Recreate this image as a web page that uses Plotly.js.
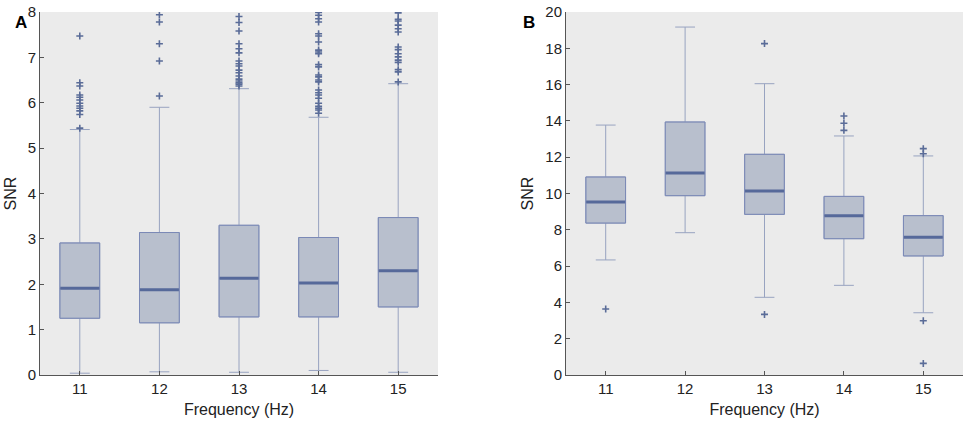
<!DOCTYPE html>
<html>
<head>
<meta charset="utf-8">
<script src="https://cdn.plot.ly/plotly-3.0.1.min.js"></script>
<style>
  html, body { margin: 0; padding: 0; background: #fff; }
  #chart { width: 970px; height: 425px; }
</style>
</head>
<body>
<div id="chart"></div>
<script>
// frequency categories (Hz)
const freqs = [11, 12, 13, 14, 15];

// panel A: box stats per frequency
const aQ1 = [1.25, 1.15, 1.28, 1.28, 1.50];
const aMedian = [1.91, 1.88, 2.13, 2.03, 2.30];
const aQ3 = [2.91, 3.14, 3.30, 3.03, 3.47];
const aLow = [0.04, 0.07, 0.06, 0.10, 0.06];
const aHigh = [5.41, 5.90, 6.31, 5.68, 6.42];

// panel A outliers (visible ones, under 8)
const aOut11 = [7.47, 6.44, 6.37, 6.17, 6.12, 6.06, 5.99, 5.93, 5.88, 5.82, 5.74, 5.44];
const aOut12 = [7.94, 7.78, 7.30, 6.92, 6.15];
const aOut13 = [7.90, 7.77, 7.58, 7.30, 7.19, 7.10, 6.92, 6.86, 6.81, 6.72, 6.66, 6.59, 6.52, 6.48, 6.44, 6.41, 6.37];
const aOut14 = [7.99, 7.93, 7.85, 7.78, 7.52, 7.47, 7.34, 7.16, 7.12, 7.08, 6.84, 6.79, 6.61, 6.57, 6.50, 6.46, 6.28, 6.22, 6.17, 6.10, 5.99, 5.92, 5.88, 5.84, 5.77];
const aOut15 = [7.98, 7.84, 7.80, 7.71, 7.63, 7.56, 7.23, 7.17, 7.08, 7.01, 6.94, 6.89, 6.73, 6.68, 6.46];

// panel B: box stats per frequency
const bQ1 = [8.37, 9.88, 8.85, 7.51, 6.56];
const bMedian = [9.53, 11.13, 10.14, 8.78, 7.59];
const bQ3 = [10.91, 13.94, 12.16, 9.84, 8.78];
const bLow = [6.34, 7.84, 4.28, 4.94, 3.43];
const bHigh = [13.77, 19.17, 16.05, 13.17, 12.07];

// panel B outliers
const bOut11 = [3.64];
const bOut12 = [];
const bOut13 = [18.26, 3.34];
const bOut14 = [14.27, 13.87, 13.48];
const bOut15 = [12.47, 12.19, 2.99, 0.64];

const fillCol = '#b8bfcd';
const outlineCol = '#7b89b6';
const whiskerCol = '#98a3c0';
const medianCol = '#56699a';
const markCol = '#5a6c98';

function outlierTrace(groups, xa, ya) {
    let xs = [];
    let ys = [];
    groups.forEach((g, i) => {
        for (let v of g) {
            xs.push(freqs[i]);
            ys.push(v);
        }
    });
    return {
        type: 'scatter', mode: 'markers', x: xs, y: ys,
        xaxis: xa, yaxis: ya, hoverinfo: 'skip', showlegend: false,
        marker: { symbol: 'cross-thin', size: 5, line: { color: markCol, width: 1.6 } }
    };
}

function boxTraces(q1, med, q3, low, high, xa, ya) {
    // whiskers + fill
    let full = {
        type: 'box', x: freqs, q1: q1, median: med, q3: q3,
        lowerfence: low, upperfence: high,
        width: 0.5, whiskerwidth: 0.5,
        fillcolor: fillCol, line: { color: whiskerCol, width: 1 },
        xaxis: xa, yaxis: ya, showlegend: false, hoverinfo: 'skip'
    };
    // darker box outline
    let outline = {
        type: 'box', x: freqs, q1: q1, median: med, q3: q3,
        lowerfence: q1, upperfence: q3,
        width: 0.5, whiskerwidth: 0,
        fillcolor: 'rgba(0,0,0,0)', line: { color: outlineCol, width: 1 },
        xaxis: xa, yaxis: ya, showlegend: false, hoverinfo: 'skip'
    };
    // thick median line
    let median = {
        type: 'box', x: freqs, q1: med, median: med, q3: med,
        lowerfence: med, upperfence: med,
        width: 0.49, whiskerwidth: 0,
        fillcolor: 'rgba(0,0,0,0)', line: { color: medianCol, width: 3 },
        xaxis: xa, yaxis: ya, showlegend: false, hoverinfo: 'skip'
    };
    return [full, outline, median];
}

let data = [];
data = data.concat(boxTraces(aQ1, aMedian, aQ3, aLow, aHigh, 'x', 'y'));
data.push(outlierTrace([aOut11, aOut12, aOut13, aOut14, aOut15], 'x', 'y'));
data = data.concat(boxTraces(bQ1, bMedian, bQ3, bLow, bHigh, 'x2', 'y2'));
data.push(outlierTrace([bOut11, bOut12, bOut13, bOut14, bOut15], 'x2', 'y2'));

const tickFont = { family: 'Liberation Sans, Arial, sans-serif', size: 15, color: '#222' };
const titleFont = { family: 'Liberation Sans, Arial, sans-serif', size: 16, color: '#222' };

function xAxis(domain, anchor) {
    return {
        domain: domain, anchor: anchor, range: [10.5, 15.5],
        tickvals: freqs, ticks: 'inside', ticklen: 4, tickcolor: '#555',
        showline: true, linecolor: '#555', linewidth: 1,
        showgrid: false, zeroline: false, tickfont: tickFont,
        title: { text: 'Frequency (Hz)', font: titleFont, standoff: 7 }
    };
}
function yAxis(domain, anchor, range, dtick) {
    return {
        domain: domain, anchor: anchor, range: range, dtick: dtick,
        ticks: 'inside', ticklen: 4, tickcolor: '#555',
        showline: true, linecolor: '#555', linewidth: 1,
        showgrid: false, zeroline: false, tickfont: tickFont,
        title: { text: 'SNR', font: titleFont, standoff: 7 }
    };
}

const yDom = [1 - 375 / 425, 1 - 12 / 425];

let layout = {
    width: 970, height: 425,
    margin: { l: 0, r: 0, t: 0, b: 0 },
    paper_bgcolor: '#ffffff',
    plot_bgcolor: '#ebebeb',
    boxmode: 'overlay',
    showlegend: false,
    xaxis: xAxis([40 / 970, 438 / 970], 'y'),
    yaxis: yAxis(yDom, 'x', [0, 8], 1),
    xaxis2: xAxis([566 / 970, 963 / 970], 'y2'),
    yaxis2: yAxis(yDom, 'x2', [0, 20], 2),
    annotations: [
        { text: '<b>A</b>', x: 13 / 970, y: 1 - 11 / 425, xref: 'paper', yref: 'paper',
          showarrow: false, font: { family: 'Liberation Sans, Arial, sans-serif', size: 17, color: '#000' } },
        { text: '<b>B</b>', x: 529 / 970, y: 1 - 11 / 425, xref: 'paper', yref: 'paper',
          showarrow: false, font: { family: 'Liberation Sans, Arial, sans-serif', size: 17, color: '#000' } }
    ]
};

Plotly.newPlot('chart', data, layout, { staticPlot: true, displayModeBar: false });
</script>
</body>
</html>
